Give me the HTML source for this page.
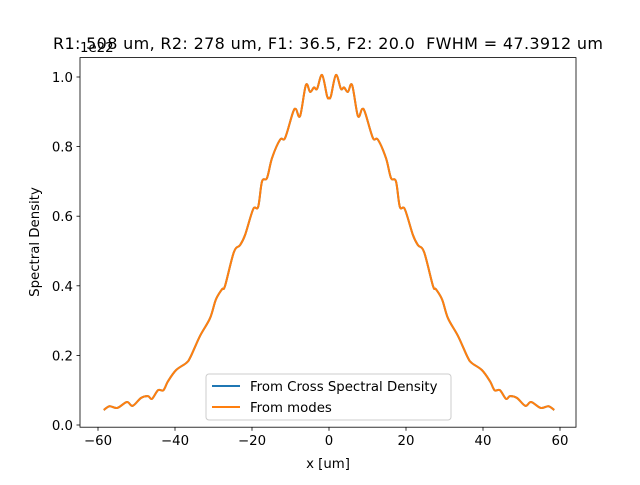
<!DOCTYPE html>
<html><head><meta charset="utf-8"><style>
body{margin:0;background:#fff}
svg{font-family:"DejaVu Sans","Liberation Sans",sans-serif}
</style></head><body>
<svg id="chart" width="640" height="480" viewBox="0 0 640 480">
<rect width="640" height="480" fill="#fff"/>
<text x="328" y="49" font-size="16" text-anchor="middle" textLength="550" lengthAdjust="spacing" style="white-space:pre">R1: 508 um, R2: 278 um, F1: 36.5, F2: 20.0  FWHM = 47.3912 um</text>
<g id="plot"></g>
<rect x="80" y="57.6" width="496" height="369.6" fill="none" stroke="#000" stroke-width="0.8"/>
<g id="xt"></g>
<g id="yt"></g>
<text x="80" y="52" font-size="13.3">1e22</text>
<text x="328" y="468" font-size="13.3" text-anchor="middle">x [um]</text>
<text transform="translate(39,242) rotate(-90)" font-size="13.3" text-anchor="middle">Spectral Density</text>
<g>
<rect x="206" y="374" width="245" height="46" rx="3" fill="#fff" fill-opacity="0.8" stroke="#ccc"/>
<line x1="212" y1="386" x2="240" y2="386" stroke="#1f77b4" stroke-width="2"/>
<text x="250" y="391" font-size="13.3">From Cross Spectral Density</text>
<line x1="212" y1="407" x2="240" y2="407" stroke="#ff7f0e" stroke-width="2"/>
<text x="250" y="412" font-size="13.3">From modes</text>
</g>
</svg>
<script>
const xs=[-58.5,-57,-55,-52.5,-51,-48.8,-47,-46,-44.4,-43,-41.8,-39.7,-37.1,-36,-33.5,-30.9,-29.4,-27.8,-27,-24.7,-23.1,-21.8,-19.7,-18.4,-17.4,-16.1,-14.8,-12.7,-11.4,-9.4,-8.6,-7.5,-6,-4.9,-3.9,-3.1,-1.8,-0.5,0,0.5,1.8,3.1,3.9,4.9,6,7.5,8.6,9.4,11.4,12.7,14.8,16.1,17.4,18.4,19.7,21.8,23.1,24.7,27,27.8,29.4,30.9,33.5,36,37.1,39.7,41.8,43,44.4,46,47,48.8,51,52.5,55,57,58.5];
const csd=[.043,.054,.049,.066,.055,.078,.083,.075,.10,.10,.126,.158,.178,.195,.256,.307,.36,.39,.40,.497,.517,.546,.62,.627,.70,.71,.767,.82,.825,.897,.908,.888,.977,.957,.97,.966,1.006,.945,.94,.945,1.006,.966,.97,.957,.977,.888,.908,.897,.825,.82,.767,.71,.70,.627,.62,.546,.517,.497,.40,.39,.36,.307,.256,.195,.178,.158,.126,.10,.10,.075,.083,.078,.055,.066,.049,.054,.043];
const modes=[.043,.054,.049,.066,.055,.078,.083,.075,.10,.10,.126,.158,.178,.195,.256,.307,.36,.39,.40,.497,.517,.546,.62,.627,.70,.71,.767,.82,.825,.897,.908,.888,.977,.957,.97,.966,1.006,.945,.94,.945,1.006,.966,.97,.957,.977,.888,.908,.897,.825,.82,.767,.71,.70,.627,.62,.546,.517,.497,.40,.39,.36,.307,.256,.195,.178,.158,.126,.10,.10,.075,.083,.078,.055,.066,.049,.054,.043];
const xticks=[-60,-40,-20,0,20,40,60];
const yticks=[0,0.2,0.4,0.6,0.8,1.0];
const X=v=>329+v*3.85, Y=v=>425-v*348;
const NS='http://www.w3.org/2000/svg';
function mk(t,a,p){const e=document.createElementNS(NS,t);for(const k in a)e.setAttribute(k,a[k]);p.appendChild(e);return e;}
function pathD(xa,ya){const P=xa.map((x,i)=>[X(x),Y(ya[i])]);let d='M'+P[0][0]+','+P[0][1];
for(let i=0;i<P.length-1;i++){const p0=P[Math.max(i-1,0)],p1=P[i],p2=P[i+1],p3=P[Math.min(i+2,P.length-1)];
d+=' C'+(p1[0]+(p2[0]-p0[0])/6)+','+(p1[1]+(p2[1]-p0[1])/6)+' '+(p2[0]-(p3[0]-p1[0])/6)+','+(p2[1]-(p3[1]-p1[1])/6)+' '+p2[0]+','+p2[1];}return d;}
const plot=document.getElementById('plot');
const l1=mk('path',{d:pathD(xs,csd),fill:'none',stroke:'#1f77b4','stroke-width':2},plot);


const l2=mk('path',{d:pathD(xs,modes),fill:'none',stroke:'#ff7f0e','stroke-width':2},plot);


const xt=document.getElementById('xt');
xticks.forEach(v=>{const l=mk('line',{x1:X(v),x2:X(v),y1:427.2,y2:430.7,stroke:'#000','stroke-width':0.8},xt);


const t=mk('text',{x:X(v),y:445,'font-size':13.3,'text-anchor':'middle'},xt);t.textContent=v<0?'\u2212'+(-v):String(v);

});
const yt=document.getElementById('yt');
yticks.forEach(v=>{const l=mk('line',{x1:76.5,x2:80,y1:Y(v),y2:Y(v),stroke:'#000','stroke-width':0.8},yt);


const t=mk('text',{x:73,y:Y(v)+5,'font-size':13.3,'text-anchor':'end'},yt);t.textContent=v.toFixed(1);

});
</script>
</body></html>
